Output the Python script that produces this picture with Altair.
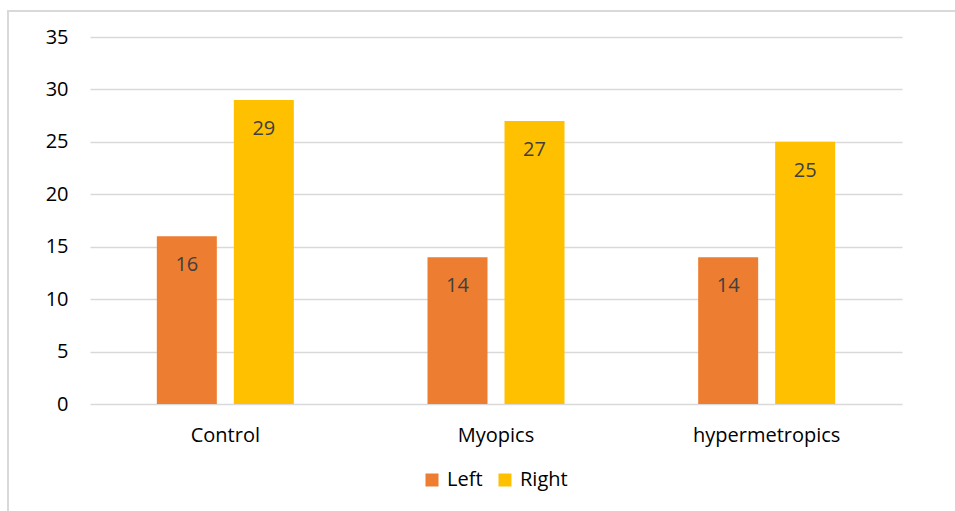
import altair as alt
import pandas as pd

# Group names and the two series drawn for each group
groups = ["Control", "Myopics", "hypermetropics"]
sides = ["Left", "Right"]
left_values = [16, 14, 14]
right_values = [29, 27, 25]

rows = []
for g, lv, rv in zip(groups, left_values, right_values):
    rows.append({"group": g, "side": "Left", "value": lv})
    rows.append({"group": g, "side": "Right", "value": rv})
df = pd.DataFrame(rows)

FONT = "Open Sans"
FS = 20
colors = ["#ED7D31", "#FFC000"]

x_enc = alt.X(
    "group:N",
    sort=groups,
    title=None,
    scale=alt.Scale(paddingInner=0, paddingOuter=0),
    axis=alt.Axis(
        labelAngle=0,
        labelFontSize=FS,
        labelFont=FONT,
        labelColor="#000000",
        labelPadding=21,
        ticks=False,
        domain=False,
        grid=False,
    ),
)
xoff_enc = alt.XOffset(
    "side:N",
    sort=sides,
    scale=alt.Scale(paddingInner=0.2208, paddingOuter=0.868),
)
y_enc = alt.Y(
    "value:Q",
    title=None,
    scale=alt.Scale(domain=[0, 35], nice=False),
    axis=alt.Axis(
        values=[0, 5, 10, 15, 20, 25, 30, 35],
        labelFontSize=FS,
        labelFont=FONT,
        labelColor="#000000",
        labelPadding=22,
        ticks=False,
        domain=False,
        gridColor="#d9d9d9",
        gridWidth=1.5,
    ),
)

bars = alt.Chart(df).mark_bar().encode(
    x=x_enc,
    xOffset=xoff_enc,
    y=y_enc,
    color=alt.Color(
        "side:N",
        sort=sides,
        scale=alt.Scale(domain=sides, range=colors),
        legend=alt.Legend(
            title=None,
            orient="none",
            direction="horizontal",
            legendX=332,
            legendY=433,
            symbolType="square",
            symbolSize=169,
            symbolStrokeWidth=0,
            labelFontSize=FS,
            labelFont=FONT,
            labelColor="#000000",
            columnPadding=12,
            symbolOffset=0,
            labelOffset=5,
        ),
    ),
)

labels = alt.Chart(df).mark_text(
    baseline="middle", dy=29, fontSize=FS, font=FONT, color="#404040"
).encode(
    x=alt.X("group:N", sort=groups),
    xOffset=alt.XOffset("side:N", sort=sides),
    y=alt.Y("value:Q"),
    text=alt.Text("value:Q"),
)

# Light outer frame around the whole figure
frame = alt.Chart(pd.DataFrame({"k": [0]})).mark_rect(
    fill=None, stroke="#d9d9d9", strokeWidth=2
).encode(
    x=alt.value(-82), x2=alt.value(900), y=alt.value(-26), y2=alt.value(500)
)

chart = (
    alt.layer(frame, bars, labels)
    .properties(
        width=812,
        height=367,
        padding={"left": 90, "top": 37, "right": 53, "bottom": 107},
        autosize=alt.AutoSizeParams(type="none"),
        background="#ffffff",
    )
    .configure_view(stroke=None)
)

chart.save("out.html", embed_options={"renderer": "svg", "actions": False})
